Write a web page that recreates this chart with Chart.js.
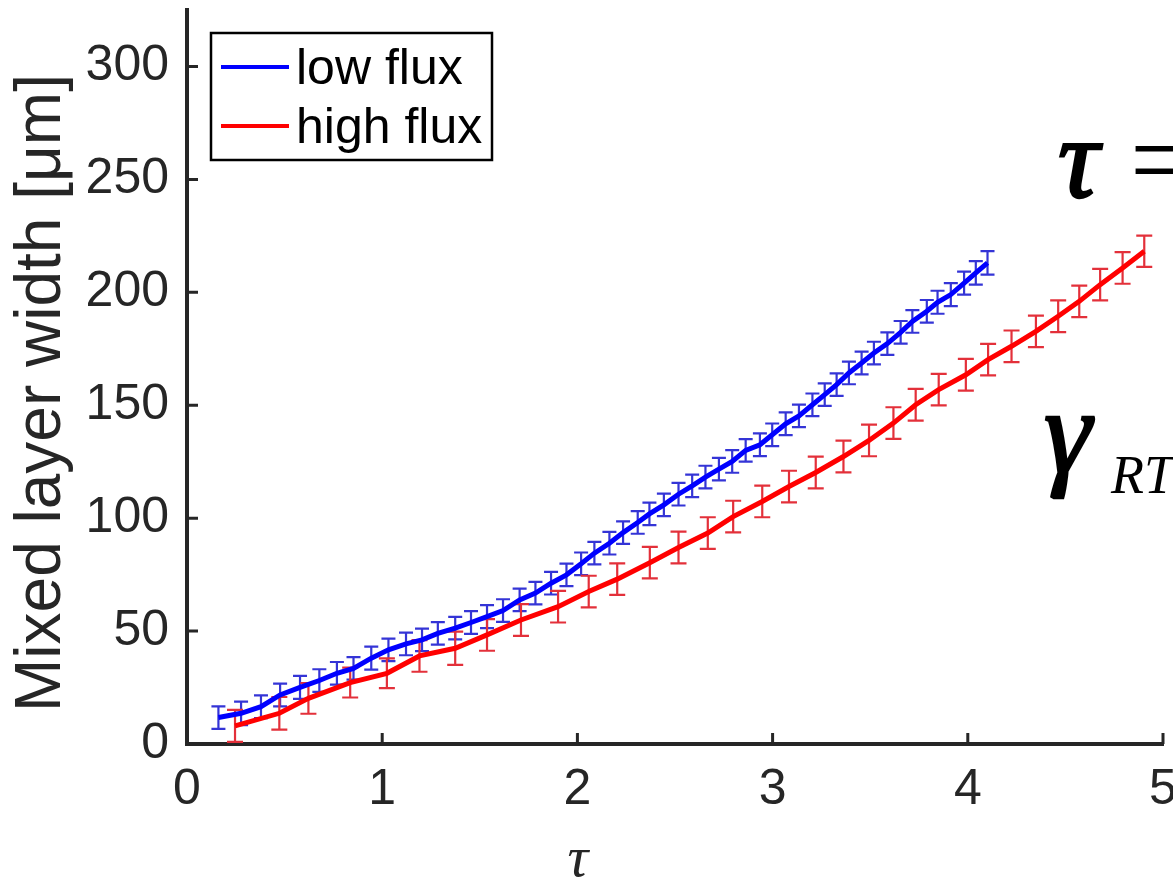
<!DOCTYPE html>
<html>
<head>
<meta charset="utf-8">
<title>Mixed layer width</title>
<script src="https://cdn.jsdelivr.net/npm/chart.js@4.4.1/dist/chart.umd.min.js"></script>
<style>
    html, body { margin: 0; padding: 0; background: #fff; overflow: hidden; }
    canvas { display: block; }
</style>
</head>
<body>
<canvas id="myChart" width="1173" height="889"></canvas>
<script>
// Data
const tauLow = [0.161, 0.277, 0.379, 0.477, 0.579, 0.678, 0.768, 0.853, 0.944, 1.032,
    1.122, 1.204, 1.285, 1.374, 1.455, 1.537, 1.619, 1.704, 1.785, 1.865,
    1.944, 2.019, 2.087, 2.164, 2.234, 2.309, 2.369, 2.443, 2.518, 2.588,
    2.656, 2.725, 2.793, 2.862, 2.935, 2.998, 3.067, 3.135, 3.204, 3.267,
    3.328, 3.391, 3.456, 3.519, 3.588, 3.656, 3.716, 3.790, 3.845, 3.913,
    3.981, 4.041, 4.101];
const widthLow = [11.7, 13.6, 16.5, 21.7, 25.1, 28.1, 31.3, 33.5, 38.0, 41.7,
    44.3, 46.1, 49.0, 51.3, 53.8, 56.4, 59.1, 63.8, 66.8, 71.2,
    74.9, 79.8, 84.5, 88.9, 93.6, 98.1, 101.9, 105.9, 110.6, 114.3,
    118.2, 121.7, 125.1, 130.0, 132.5, 136.9, 141.8, 145.3, 150.2, 154.7,
    159.1, 164.3, 168.7, 173.1, 177.3, 182.3, 187.1, 191.6, 195.6, 199.0,
    204.1, 208.6, 213.0];
const errLow = [5.0, 5.2, 5.0, 5.0, 5.1, 5.0, 5.0, 5.0, 5.1, 5.0,
    5.0, 5.0, 5.0, 5.0, 5.0, 5.1, 5.0, 5.0, 5.0, 5.0,
    5.0, 5.0, 5.0, 5.0, 5.0, 5.0, 5.0, 5.0, 5.0, 5.0,
    5.0, 5.0, 5.0, 5.0, 5.0, 5.0, 5.0, 5.0, 5.0, 5.0,
    5.0, 5.0, 5.0, 5.0, 5.0, 5.0, 5.0, 5.0, 5.1, 5.1,
    5.1, 5.2, 5.2];

const tauHigh = [0.246, 0.473, 0.622, 0.836, 1.024, 1.191, 1.374, 1.537, 1.711, 1.901,
    2.058, 2.204, 2.371, 2.518, 2.668, 2.798, 2.947, 3.084, 3.221, 3.363,
    3.494, 3.619, 3.733, 3.851, 3.990, 4.104, 4.224, 4.349, 4.463, 4.571,
    4.678, 4.793, 4.904];
const widthHigh = [8.0, 13.6, 20.2, 27.2, 31.3, 39.0, 42.4, 48.3, 54.9, 60.8,
    67.5, 73.0, 80.3, 87.0, 93.4, 100.7, 107.4, 114.0, 120.2, 127.3,
    134.4, 142.1, 150.2, 156.9, 163.5, 170.2, 176.1, 182.7, 189.4, 196.0,
    203.4, 210.8, 218.2];
const errHigh = [7.1, 7.2, 6.8, 6.6, 6.6, 7.0, 7.4, 7.0, 7.0, 7.0,
    7.0, 7.0, 7.0, 7.0, 7.0, 7.0, 7.0, 7.0, 7.0, 7.0,
    7.0, 7.0, 7.0, 7.0, 7.0, 7.0, 7.0, 7.0, 7.0, 7.0,
    7.0, 7.0, 6.9];

const xTicks = [0, 1, 2, 3, 4, 5];
const yTicks = [0, 50, 100, 150, 200, 250, 300];
const seriesNames = ['low flux', 'high flux'];

const axisColor = '#262626';
const sans = '"Liberation Sans", Arial, Helvetica, sans-serif';
const serif = '"Liberation Serif", "Times New Roman", serif';

// Error bars, inner ticks, legend and labels
const overlay = {
    id: 'overlay',
    beforeDatasetsDraw(chart) {
        const ctx = chart.ctx;
        const xs = chart.scales.x, ys = chart.scales.y;
        chart.data.datasets.forEach(ds => {
            ctx.save();
            ctx.strokeStyle = ds.barColor;
            ctx.lineWidth = 2.2;
            ds.data.forEach((p, i) => {
                const x = xs.getPixelForValue(p.x);
                const y1 = ys.getPixelForValue(p.y - ds.err[i]);
                const y2 = ys.getPixelForValue(p.y + ds.err[i]);
                const c = ds.cap;
                ctx.beginPath();
                ctx.moveTo(x, y1); ctx.lineTo(x, y2);
                ctx.moveTo(x - c, y1); ctx.lineTo(x + c, y1);
                ctx.moveTo(x - c, y2); ctx.lineTo(x + c, y2);
                ctx.stroke();
            });
            ctx.restore();
        });
    },
    afterDraw(chart) {
        const ctx = chart.ctx;
        const xs = chart.scales.x, ys = chart.scales.y;
        const area = chart.chartArea;
        ctx.save();

        // ticks pointing inwards
        ctx.strokeStyle = axisColor;
        ctx.lineWidth = 3;
        ctx.beginPath();
        yTicks.forEach(v => {
            const y = ys.getPixelForValue(v);
            ctx.moveTo(area.left, y); ctx.lineTo(area.left + 11, y);
        });
        xTicks.forEach(v => {
            const x = xs.getPixelForValue(v);
            ctx.moveTo(x, area.bottom); ctx.lineTo(x, area.bottom - 11);
        });
        ctx.stroke();

        // legend box
        ctx.fillStyle = '#fff';
        ctx.fillRect(211, 33, 281, 127);
        ctx.strokeStyle = '#000';
        ctx.lineWidth = 2.5;
        ctx.strokeRect(211, 33, 281, 127);
        chart.data.datasets.forEach((ds, i) => {
            const y = 67 + i * 59;
            ctx.strokeStyle = ds.borderColor;
            ctx.lineWidth = 4;
            ctx.beginPath();
            ctx.moveTo(221, y); ctx.lineTo(289, y);
            ctx.stroke();
            ctx.fillStyle = '#000';
            ctx.font = '50px ' + sans;
            ctx.textAlign = 'left';
            ctx.textBaseline = 'alphabetic';
            ctx.fillText(ds.label, 296, y + 17);
        });

        // axis titles
        ctx.fillStyle = axisColor;
        ctx.save();
        ctx.translate(42, 393);
        ctx.rotate(-Math.PI / 2);
        ctx.font = '64px ' + sans;
        ctx.textAlign = 'center';
        ctx.textBaseline = 'middle';
        ctx.fillText('Mixed layer width [\u03bcm]', 0, 0);
        ctx.restore();

        ctx.font = 'italic 58px ' + serif;
        ctx.textAlign = 'center';
        ctx.textBaseline = 'alphabetic';
        ctx.fillText('\u03c4', 578, 876);

        // equation fragments on the right (cut by the frame)
        ctx.fillStyle = '#000';
        ctx.strokeStyle = '#000';
        ctx.lineWidth = 2.5;
        ctx.textAlign = 'left';
        ctx.font = 'italic 114px ' + serif;
        ctx.fillText('\u03c4', 1058, 197);
        ctx.strokeText('\u03c4', 1058, 197);
        ctx.font = '112px ' + serif;
        ctx.fillText('=', 1130, 197);
        ctx.font = 'italic 120px ' + serif;
        ctx.fillText('\u03b3', 1044, 472);
        ctx.strokeText('\u03b3', 1044, 472);
        ctx.font = 'italic 54px ' + serif;
        ctx.fillText('RT', 1111, 493);

        ctx.restore();
    }
};

const ctx = document.getElementById('myChart').getContext('2d');
new Chart(ctx, {
    type: 'line',
    data: {
        datasets: [
            {
                label: seriesNames[0],
                data: tauLow.map((t, i) => ({ x: t, y: widthLow[i] })),
                err: errLow,
                borderColor: '#0000ff',
                barColor: '#3434d6',
                cap: 7,
                borderWidth: 5,
                pointRadius: 0,
                tension: 0,
                fill: false
            },
            {
                label: seriesNames[1],
                data: tauHigh.map((t, i) => ({ x: t, y: widthHigh[i] })),
                err: errHigh,
                borderColor: '#ff0000',
                barColor: '#e3303a',
                cap: 8,
                borderWidth: 5,
                pointRadius: 0,
                tension: 0,
                fill: false
            }
        ]
    },
    options: {
        responsive: false,
        animation: false,
        events: [],
        layout: { padding: { left: 0, right: 10, top: 10, bottom: 0 } },
        plugins: { legend: { display: false }, tooltip: { enabled: false } },
        scales: {
            x: {
                type: 'linear',
                min: 0,
                max: 5,
                afterFit: s => { s.height = 145; s.paddingLeft = 0; s.paddingRight = 0; },
                ticks: { stepSize: 1, includeBounds: false, padding: 16, color: axisColor, font: { family: sans, size: 50 } },
                grid: { display: false, drawTicks: false },
                border: { display: true, color: axisColor, width: 4 }
            },
            y: {
                type: 'linear',
                min: 0,
                max: 325,
                afterFit: s => { s.width = 187; s.paddingTop = 0; s.paddingBottom = 0; },
                ticks: { stepSize: 50, includeBounds: false, padding: 18, color: axisColor, font: { family: sans, size: 50 } },
                grid: { display: false, drawTicks: false },
                border: { display: true, color: axisColor, width: 4 }
            }
        }
    },
    plugins: [overlay]
});
</script>
</body>
</html>
